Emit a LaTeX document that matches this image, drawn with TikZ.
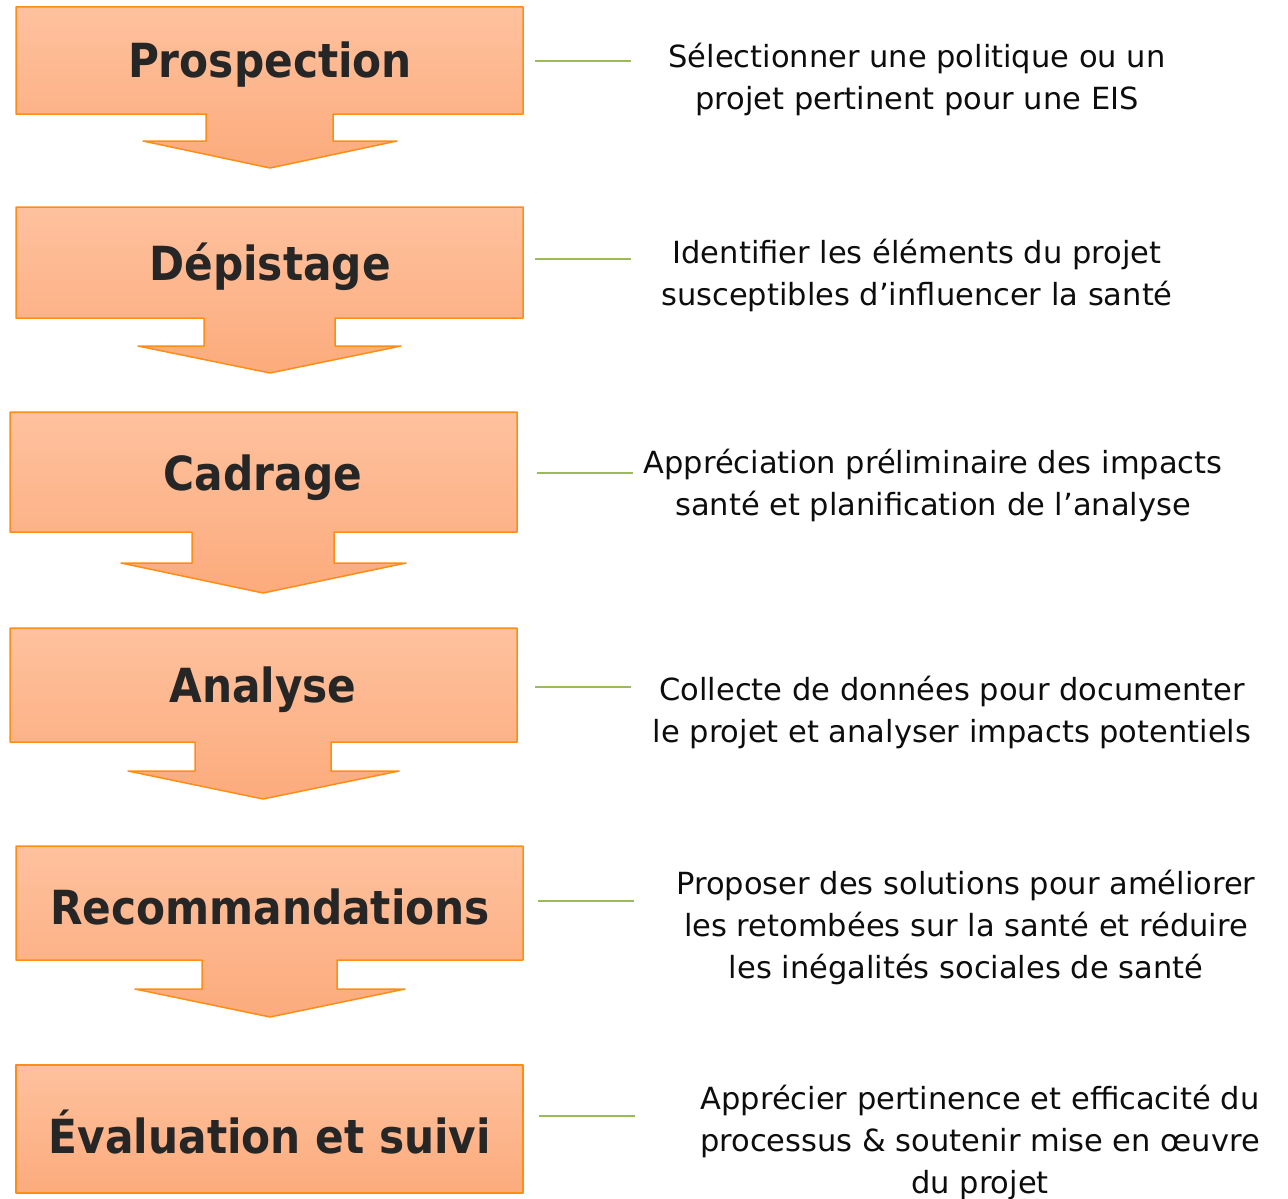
\documentclass[tikz,border=0pt]{standalone}
\usepackage{fontspec}
\setmainfont{DejaVu Sans Condensed}
\newfontfamily\infofont{DejaVu Sans}
\usetikzlibrary{positioning}

\definecolor{boxtop}{RGB}{254,193,158}
\definecolor{boxbot}{RGB}{252,171,124}
\definecolor{boxline}{RGB}{255,140,20}
\definecolor{linkgreen}{RGB}{155,187,89}
\definecolor{labelgray}{RGB}{38,38,38}

\begin{document}
\begin{tikzpicture}[x=1pt, y=-1pt,
    stage/.style = {draw=boxline, line width=1.5pt, line join=round, top color=boxtop, bottom color=boxbot},
    title/.style = {font=\bfseries\fontsize{47}{56}\selectfont, text=labelgray},
    info/.style = {align=center, font=\infofont\fontsize{30.5}{42}\selectfont, text=black!95},
    link/.style = {draw=linkgreen, line width=1.5pt}]
        \useasboundingbox (0,0) rectangle (1288,1199);

        % steps
        \draw[stage] (16,7) -- (523,7) -- (523,114) -- (333,114) -- (333,141) -- (397,141) -- (270,168)
                -- (143,141) -- (206,141) -- (206,114) -- (16,114) -- cycle;
        \draw[stage] (16,207) -- (523,207) -- (523,318) -- (335,318) -- (335,346) -- (401,346) -- (270,373)
                -- (138,346) -- (204,346) -- (204,318) -- (16,318) -- cycle;
        \draw[stage] (10,412) -- (517,412) -- (517,532) -- (334,532) -- (334,563) -- (406,563) -- (263,593)
                -- (121,563) -- (192,563) -- (192,532) -- (10,532) -- cycle;
        \draw[stage] (10,628) -- (517,628) -- (517,742) -- (331,742) -- (331,771) -- (399,771) -- (263,799)
                -- (128,771) -- (195,771) -- (195,742) -- (10,742) -- cycle;
        \draw[stage] (16,846) -- (523,846) -- (523,960) -- (337,960) -- (337,989) -- (405,989) -- (270,1017)
                -- (135,989) -- (202,989) -- (202,960) -- (16,960) -- cycle;
        \draw[stage] (16,1065) rectangle (523,1193);

        \node[title] (prosp) at (270,65) {Prospection};
        \node[title] (depist) at (270,267) {Dépistage};
        \node[title] (cadr) at (263,478) {Cadrage};
        \node[title] (analy) at (263,690) {Analyse};
        \node[title] (recom) at (270,907) {Recommandations};
        \node[title] (evalu) at (270,1132) {Évaluation et suivi};

        % descriptions
        \node[info] (prospTxt) at (917,79) {Sélectionner une politique ou un\\projet pertinent pour une EIS};
        \node[info] (depistTxt) at (917,275) {Identifier les éléments du projet\\susceptibles d’influencer la santé};
        \node[info] (cadrTxt) at (933,485) {Appréciation préliminaire des impacts\\santé et planification de l’analyse};
        \node[info] (analyTxt) at (952,712) {Collecte de données pour documenter\\le projet et analyser impacts potentiels};
        \node[info] (recomTxt) at (966,927) {Proposer des solutions pour améliorer\\les retombées sur la santé et réduire\\les inégalités sociales de santé};
        \node[info] (evaluTxt) at (980,1142) {Apprécier pertinence et efficacité du\\processus \& soutenir mise en œuvre\\du projet};

        % links
        \coordinate (prospA) at (535,61);   \coordinate (prospB) at (631,61);
        \coordinate (depistA) at (535,259); \coordinate (depistB) at (631,259);
        \coordinate (cadrA) at (537,473);   \coordinate (cadrB) at (633,473);
        \coordinate (analyA) at (535,687);  \coordinate (analyB) at (631,687);
        \coordinate (recomA) at (538,901);  \coordinate (recomB) at (634,901);
        \coordinate (evaluA) at (539,1116); \coordinate (evaluB) at (635,1116);
        \draw[link] (prospA) -- (prospB);
        \draw[link] (depistA) -- (depistB);
        \draw[link] (cadrA) -- (cadrB);
        \draw[link] (analyA) -- (analyB);
        \draw[link] (recomA) -- (recomB);
        \draw[link] (evaluA) -- (evaluB);
\end{tikzpicture}
\end{document}
